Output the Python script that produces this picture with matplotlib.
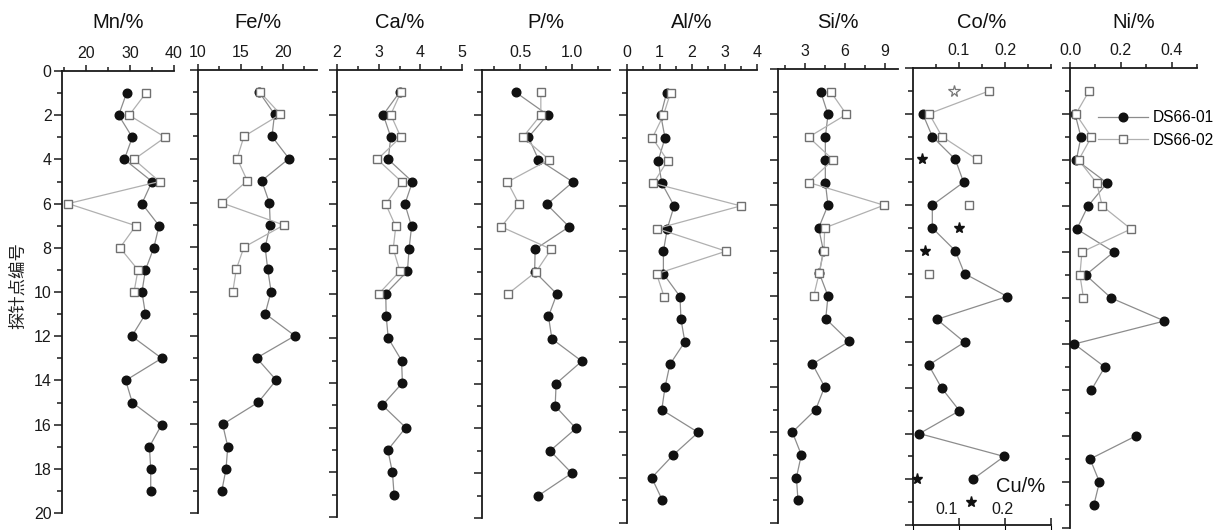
import numpy as np
import matplotlib
matplotlib.use('Agg')
import matplotlib.pyplot as plt
import matplotlib.transforms as mtransforms
from matplotlib.ticker import NullFormatter

plt.rcParams['font.family'] = ['Liberation Sans', 'DejaVu Sans']

nan = np.nan

# ---------------- data ----------------
depth_01 = list(range(1, 20))          # 探针点编号, DS66-01
depth_02 = list(range(1, 11))          # 探针点编号, DS66-02

mn_01 = [29.2, 27.4, 30.5, 28.7, 35.0, 32.7, 36.6, 35.4, 33.5, 32.7,
         33.5, 30.4, 37.2, 29.0, 30.5, 37.2, 34.4, 34.7, 34.7]
mn_02 = [33.6, 29.8, 38.0, 30.9, 36.7, 15.9, 31.3, 27.7, 31.8, 30.9]

fe_01 = [17.2, 19.0, 18.7, 20.7, 17.5, 18.4, 18.5, 17.9, 18.2, 18.6,
         17.9, 21.4, 16.9, 19.2, 17.1, 12.9, 13.5, 13.3, 12.8]
fe_02 = [17.3, 19.7, 15.4, 14.6, 15.8, 12.8, 20.1, 15.4, 14.5, 14.1]

ca_01 = [3.50, 3.11, 3.29, 3.23, 3.81, 3.63, 3.79, 3.73, 3.69, 3.17,
         3.18, 3.23, 3.55, 3.57, 3.09, 3.65, 3.22, 3.33, 3.37]
ca_02 = [3.53, 3.29, 3.53, 2.97, 3.55, 3.17, 3.41, 3.35, 3.51, 3.01]

p_01 = [0.458, 0.765, 0.58, 0.677, 1.01, 0.758, 0.974, 0.645, 0.64, 0.855,
        0.774, 0.807, 1.097, 0.848, 0.839, 1.04, 0.79, 1.0, 0.677]
p_02 = [0.70, 0.70, 0.526, 0.78, 0.377, 0.49, 0.316, 0.80, 0.655, 0.38]

al_01 = [1.22, 1.04, 1.17, 0.96, 1.07, 1.45, 1.24, 1.12, 1.12, 1.63,
         1.66, 1.78, 1.32, 1.17, 1.07, 2.19, 1.42, 0.76, 1.09]
al_02 = [1.34, 1.12, 0.78, 1.25, 0.81, 3.50, 0.93, 3.05, 0.91, 1.14]

si_01 = [4.2, 4.75, 4.55, 4.55, 4.55, 4.75, 4.05, 4.4, 4.1, 4.75,
         4.58, 6.33, 3.58, 4.5, 3.83, 2.08, 2.75, 2.38, 2.5]
si_02 = [4.95, 6.13, 3.3, 5.13, 3.3, 8.95, 4.5, 4.45, 4.08, 3.68]

co_01 = [nan, 0.021, 0.042, 0.092, 0.110, 0.042, 0.042, 0.092, 0.112, 0.205,
         0.052, 0.112, 0.034, 0.062, 0.101, 0.014, 0.198, 0.130, nan]
co_02 = [0.166, 0.035, 0.063, 0.139, nan, 0.121, nan, nan, 0.034, nan]

ni_01 = [nan, 0.02, 0.043, 0.025, 0.146, 0.071, 0.027, 0.172, 0.062, 0.162,
         0.372, 0.017, 0.137, 0.084, nan, 0.259, 0.079, 0.116, 0.094]
ni_02 = [0.075, 0.023, 0.084, 0.034, 0.105, 0.127, 0.240, 0.047, 0.039, 0.053]

cu_depth_01 = [4, 7, 8, 18, 19]
cu_01 = [0.02, 0.10, 0.025, 0.008, 0.127]
cu_depth_02 = [1]
cu_02 = [0.09]

titles = ['Mn/%', 'Fe/%', 'Ca/%', 'P/%', 'Al/%', 'Si/%', 'Co/%', 'Ni/%']
series_01 = [mn_01, fe_01, ca_01, p_01, al_01, si_01, co_01, ni_01]
series_02 = [mn_02, fe_02, ca_02, p_02, al_02, si_02, co_02, ni_02]
major_ticks = [[20, 30, 40], [10, 15, 20], [2, 3, 4, 5], [0.5, 1.0],
               [0, 1, 2, 3, 4], [3, 6, 9], [0.1, 0.2], [0.0, 0.2, 0.4]]
major_labels = [['20', '30', '40'], ['10', '15', '20'], ['2', '3', '4', '5'],
                ['0.5', '1.0'], ['0', '1', '2', '3', '4'], ['3', '6', '9'],
                ['0.1', '0.2'], ['0.0', '0.2', '0.4']]
minor_ticks = [[15, 25, 35], [12.5, 17.5, 22.5], [2.5, 3.5, 4.5], [0.25, 0.75, 1.25],
               [0.5, 1.5, 2.5, 3.5], [1.5, 4.5, 7.5], [0.05, 0.15, 0.25, 0.3],
               [0.1, 0.3, 0.5]]
cu_ticks = [0.1, 0.2, 0.3]
cu_label_ticks = [0.1, 0.2]
cu_labels = ['0.1', '0.2']

# ---------------- layout (pixels) ----------------
W, H = 1220, 530
xlims = [(14.5, 40), (10, 24), (2, 5), (0.13, 1.37), (0, 4), (1, 10), (0, 0.3), (0, 0.5)]
px_left = [62, 198, 337, 482, 627, 778, 913, 1070]
px_right = [174, 317, 462, 610, 757, 898, 1051, 1197]
px_top = [71, 70, 70, 70, 70, 69, 68, 68]
px_bot = [513, 513, 517, 518, 523, 523, 525, 528]

fig = plt.figure(figsize=(W / 100, H / 100), dpi=100)
fig.patch.set_facecolor('white')

c_line1 = '#8c8c8c'
c_line2 = '#b0b0b0'
c_sq = '#707070'
spine_c = '#1a1a1a'

axes = []
for i in range(8):
    l, r, t, b = px_left[i], px_right[i], px_top[i], px_bot[i]
    ax = fig.add_axes([l / W, 1 - b / H, (r - l) / W, (b - t) / H])
    axes.append(ax)
    ax.set_xlim(*xlims[i])
    ax.set_ylim(20, 0)
    for s in ['right', 'bottom']:
        ax.spines[s].set_visible(False)
    for s in ['left', 'top']:
        ax.spines[s].set_linewidth(1.3)
        ax.spines[s].set_color(spine_c)
    # x axis of the main axes carries nothing; the top scale is a secondary axis
    ax.xaxis.set_major_formatter(NullFormatter())
    ax.tick_params(axis='x', which='both', bottom=False, top=False,
                   labelbottom=False, labeltop=False)
    sec = ax.secondary_xaxis('top')
    sec.set_xticks(major_ticks[i])
    sec.set_xticklabels(major_labels[i])
    sec.set_xticks(minor_ticks[i], minor=True)
    sec.spines['top'].set_visible(False)
    sec.tick_params(axis='x', which='major', direction='out', length=4.5, width=1.1,
                    labelsize=11.5, pad=2.5, colors=spine_c)
    sec.tick_params(axis='x', which='minor', direction='out', length=3, width=1.1,
                    colors=spine_c)

    ax.set_yticks(range(0, 21, 2))
    ax.set_yticks(range(1, 20, 2), minor=True)
    ax.tick_params(axis='y', which='major', direction='out', length=5.5, width=1.1,
                   labelsize=11.5, pad=2, colors=spine_c)
    ax.tick_params(axis='y', which='minor', direction='out', length=3.5, width=1.1, colors=spine_c)
    if i > 0:
        ax.tick_params(axis='y', labelleft=False)
    ax.patch.set_alpha(0)

    h1, = ax.plot(series_01[i], depth_01, '-', color=c_line1, lw=0.9,
                  marker='o', ms=6.2, mfc='#111111', mec='#111111', clip_on=False,
                  zorder=3, label='DS66-01')
    h2, = ax.plot(series_02[i], depth_02, '-', color=c_line2, lw=0.9,
                  marker='s', ms=5.5, mfc='white', mec=c_sq, mew=1.0, clip_on=False,
                  zorder=4, label='DS66-02')

    cx = (l + r) / 2
    fig.text(cx / W, 1 - 22 / H, titles[i], ha='center', va='center', fontsize=14.5,
             color='#111111')

# Cu secondary axis in the Co panel
ax_co = axes[6]
ax_cu = ax_co.twiny()
ax_cu.set_xlim(*xlims[6])
ax_cu.xaxis.set_ticks_position('bottom')
for s in ['top', 'right', 'left']:
    ax_cu.spines[s].set_visible(False)
ax_cu.spines['bottom'].set_visible(True)
ax_cu.spines['bottom'].set_linewidth(1.3)
ax_cu.spines['bottom'].set_color(spine_c)
ax_cu.set_xticks(cu_ticks)
ax_cu.xaxis.set_major_formatter(NullFormatter())
ax_cu.tick_params(axis='x', which='major', direction='in', length=5, width=1.1,
                  labelbottom=False, labeltop=False, pad=-18, colors=spine_c)
ax_cu.patch.set_alpha(0)
blend = mtransforms.blended_transform_factory(ax_cu.transData, ax_cu.transAxes)
for xv, lab, dx in zip(cu_label_ticks, cu_labels, [-0.027, -0.006]):
    ax_cu.text(xv + dx, 0.033, lab, transform=blend, ha='center', va='center',
               fontsize=11.5, color=spine_c)
ax_cu.plot(cu_01, cu_depth_01, linestyle='none', marker='*', ms=8, mfc='#111111',
           mec='#111111', clip_on=False, zorder=5)
ax_cu.plot(cu_02, cu_depth_02, linestyle='none', marker='*', ms=8.5, mfc='white',
           mec='#777777', mew=0.9, clip_on=False, zorder=5)
fig.text(1021 / W, 1 - 487 / H, 'Cu/%', ha='center', va='center', fontsize=14.5,
         color='#111111')

# legend in Ni panel
axes[7].legend(handles=[h1, h2], loc='upper left', bbox_to_anchor=(1098 / W, 1 - 110 / H),
               bbox_transform=fig.transFigure, frameon=False, numpoints=1,
               handlelength=3.2, handletextpad=0.3, labelspacing=0.5,
               borderpad=0, borderaxespad=0, fontsize=11.2)

# y label
fig.text(18 / W, 1 - 286 / H, '探针点编号', rotation=90, ha='center', va='center',
         fontsize=12.5, family=['Noto Sans CJK SC', 'DejaVu Sans'], color='#222222')

fig.savefig('out.png', dpi=100, facecolor='white')
